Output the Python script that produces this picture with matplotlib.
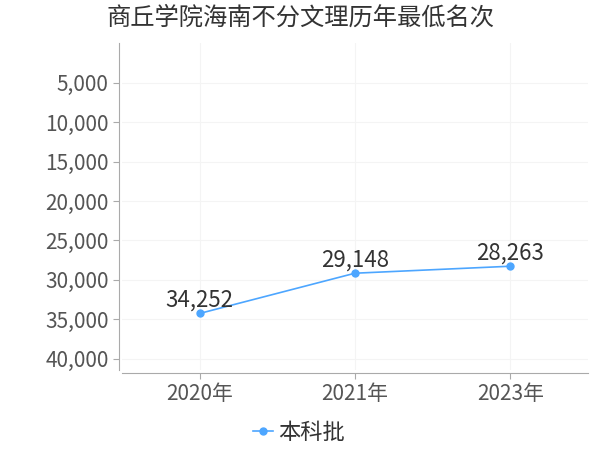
import matplotlib
matplotlib.use('Agg')
import matplotlib.pyplot as plt

plt.rcParams['font.family'] = ['Noto Sans CJK SC', 'DejaVu Sans']

# 数据
years = ['2020年', '2021年', '2023年']
ranks = [34252, 29148, 28263]
series_name = '本科批'
title = '商丘学院海南不分文理历年最低名次'
yticks = [5000, 10000, 15000, 20000, 25000, 30000, 35000, 40000]

line_color = '#4da6ff'

fig = plt.figure(figsize=(6, 4.5), dpi=100)
ax = fig.add_axes([0.203, 0.178, 0.777, 0.726])

x = list(range(len(years)))
ax.plot(x, ranks, color=line_color, linewidth=1.2, marker='o', markersize=5,
        label=series_name, zorder=3)

for xi, v in zip(x, ranks):
    ax.annotate(f'{v:,}', (xi, v), xytext=(0, 1), textcoords='offset points',
                ha='center', va='bottom', fontsize=16, color='#333333', zorder=4)

ax.set_xlim(-0.5, 2.5)
ax.set_ylim(41400, 0)
ax.set_xticks(x)
ax.set_xticklabels(years)
ax.set_yticks(yticks)
ax.set_yticklabels([f'{t:,}' for t in yticks])

ax.grid(True, color='#f4f4f4', linewidth=0.8)
ax.set_axisbelow(True)

for s in ['top', 'right']:
    ax.spines[s].set_visible(False)
for s in ['left', 'bottom']:
    ax.spines[s].set_color('#aaaaaa')
    ax.spines[s].set_position(('outward', 2))

ax.tick_params(axis='both', colors='#aaaaaa', labelcolor='#555555',
               labelsize=15, length=4)

ax.legend(loc='upper center', bbox_to_anchor=(0.38, -0.095), frameon=False,
          fontsize=16, handlelength=0.9, handletextpad=0.2, labelcolor='#333333')

fig.suptitle(title, x=0.5, y=0.99, fontsize=17.5, color='#333333')

fig.savefig('out.png', dpi=100)
